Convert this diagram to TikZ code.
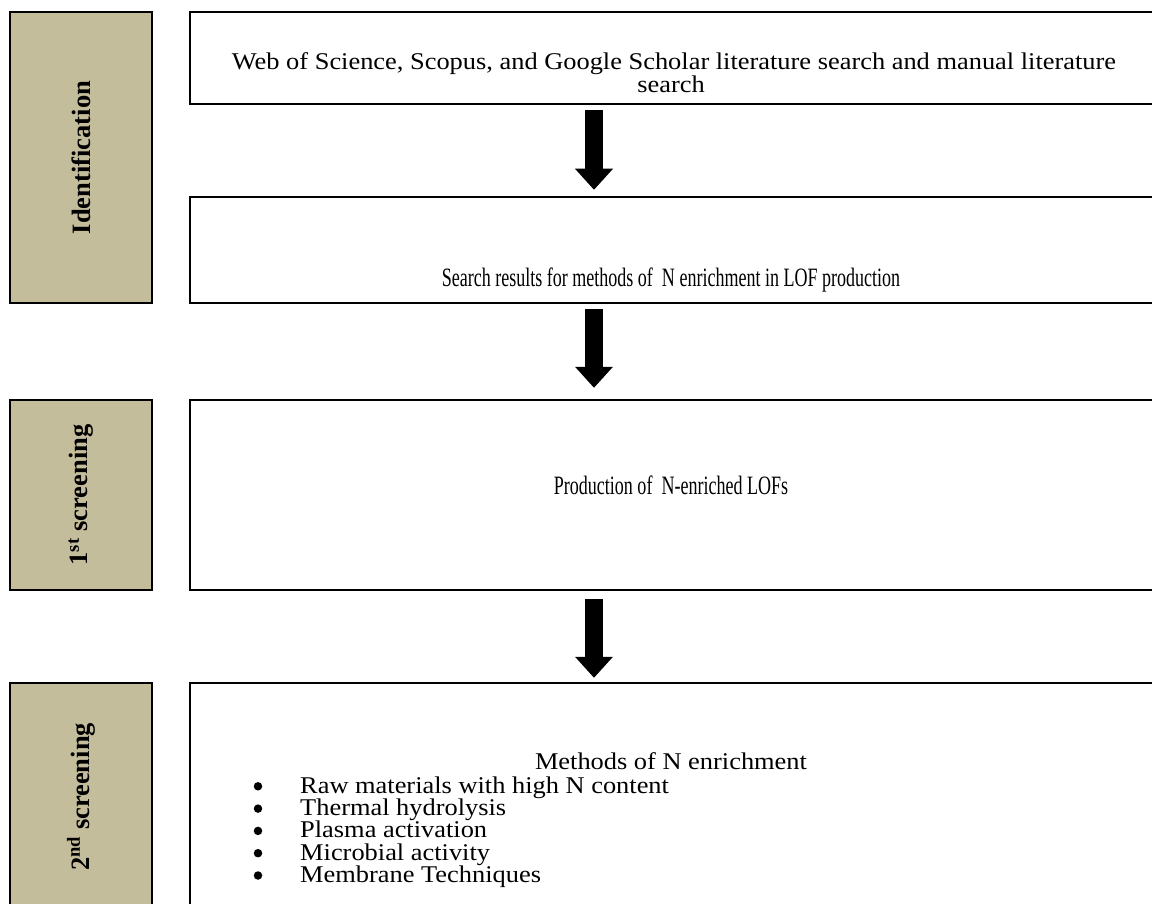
\documentclass[tikz,border=0pt]{standalone}
\usepackage{fontspec}
\setmainfont{Liberation Serif}
\newfontfamily\narrowfont[FakeStretch=0.68]{Liberation Serif}
\newfontfamily\widefont[FakeStretch=1.1]{Liberation Serif}
\usepackage{tikz}
\usetikzlibrary{arrows.meta,positioning}
\definecolor{stagetan}{RGB}{196,189,155}

\begin{document}
\begin{tikzpicture}[x=1pt, y=-1pt,
  stage/.style={draw, line width=2.5pt, fill=stagetan, minimum width=142pt, inner sep=0pt, font=\fontsize{26.5}{30}\selectfont\bfseries},
  panel/.style={draw, line width=2.5pt, minimum width=966pt},
  txt/.style={anchor=base, inner sep=0pt, font=\fontsize{26.5}{22}\selectfont\narrowfont},
  listtxt/.style={anchor=base, inner sep=0pt, font=\fontsize{24}{22}\selectfont\widefont},
  dot/.style={circle, fill, inner sep=0pt, minimum size=8.5pt},
  flow/.style={line width=18pt, -{Triangle[width=38pt, length=21pt, line width=0pt]}}
]
  \useasboundingbox (0,0) rectangle (1152,904);

  % stages on the left
  \node[stage, minimum height=291pt] (ident) at (81,157.5) {\rotatebox{90}{Identification}};
  \node[stage, minimum height=190pt] (first) at (81,495) {\rotatebox{90}{1\textsuperscript{st} screening}};
  \node[stage, minimum height=228pt] (second) at (81,797) {\rotatebox{90}{2\textsuperscript{nd} screening}};

  % boxes
  \node[panel, minimum height=92pt] (a) at (673,58) {};
  \node[panel, minimum height=106pt] (b) at (673,250) {};
  \node[panel, minimum height=190pt] (c) at (673,495) {};
  \node[panel, minimum height=228pt] (d) at (673,797) {};

  \node[listtxt] (atext) at (674,70) {Web of Science, Scopus, and Google Scholar literature search and manual literature};
  \node[listtxt] (atext2) at (671,93) {search};
  \node[txt] (btext) at (671,287) {Search results for methods of~ N enrichment in LOF production};
  \node[txt] (ctext) at (671,494) {Production of~ N-enriched LOFs};
  \node[listtxt] (dtext) at (671,769) {Methods of N enrichment};
  \foreach \t [count=\i] in {Raw materials with high N content, Thermal hydrolysis, Plasma activation, Microbial activity, Membrane Techniques} {
    \node[dot] (bul\i) at (258,764+22.3*\i) {};
    \node[listtxt, anchor=base west] (item\i) at (300,771+22.3*\i) {\t};
  }

  % arrows
  \coordinate (ax) at (594,0);
  \foreach \p/\q/\s/\e in {a/b/5/6, b/c/5/11, c/d/8/4}
    \draw[flow, shorten <=\s pt, shorten >=\e pt] (\p.south -| ax) -- (\q.north -| ax);
\end{tikzpicture}
\end{document}
